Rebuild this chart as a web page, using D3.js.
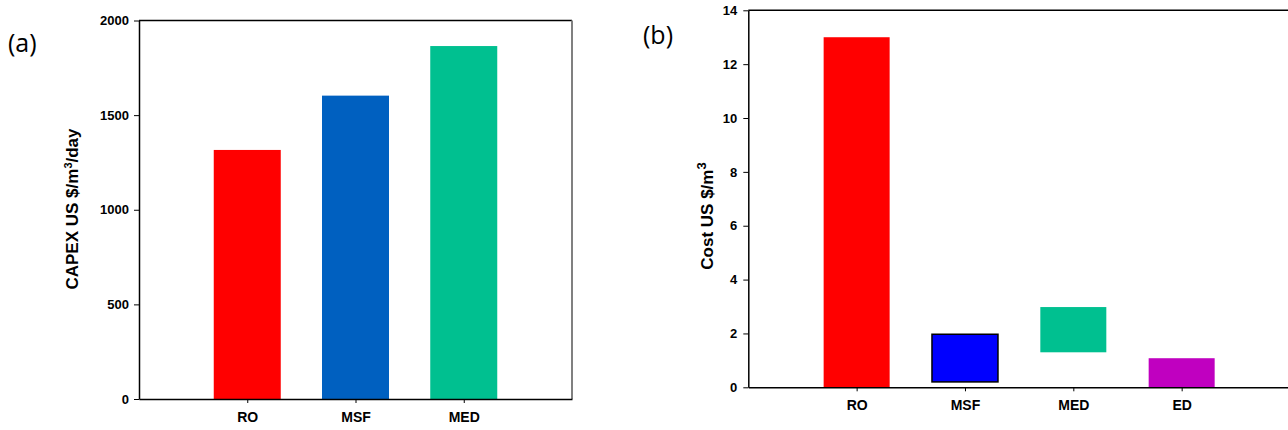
<!DOCTYPE html>
<html>
<head>
<meta charset="utf-8">
<script src="https://cdn.jsdelivr.net/npm/d3@7"></script>
<style>
  body { margin: 0; background: #fff; }
  svg { display: block; }
</style>
</head>
<body>
<div id="chart"></div>
<script>
// data
const capexCats = ["RO", "MSF", "MED"];
const capexValues = [1316, 1603, 1865];
const capexColors = ["#ff0000", "#0060c0", "#00c090"];
const capexTicks = [0, 500, 1000, 1500, 2000];

const costCats = ["RO", "MSF", "MED", "ED"];
const costLow = [0, 0.2, 1.3, 0];
const costHigh = [13, 1.97, 2.98, 1.08];
const costColors = ["#ff0000", "#0000ff", "#00c090", "#c000c0"];
const costTicks = [0, 2, 4, 6, 8, 10, 12, 14];

const W = 1288, H = 430;
const font = "'Liberation Sans', Arial, sans-serif";

const svg = d3.select("#chart").append("svg")
    .attr("width", W)
    .attr("height", H);

// ---- panel (a) ----
const a = { left: 139, right: 572, top: 20.5, bottom: 399 };

const xA = d3.scaleLinear().domain([0, capexCats.length + 1]).range([a.left, a.right]);
const yA = d3.scaleLinear().domain([0, 2000]).range([a.bottom, a.top]);
const bwA = 67;

svg.append("g").selectAll("rect")
    .data(capexValues)
    .join("rect")
    .attr("x", (d, i) => xA(i + 1) - bwA / 2)
    .attr("width", bwA)
    .attr("y", d => yA(d))
    .attr("height", d => yA(0) - yA(d))
    .attr("fill", (d, i) => capexColors[i]);

// frame lines
svg.append("line").attr("x1", a.left).attr("x2", a.right).attr("y1", a.top).attr("y2", a.top)
    .attr("stroke", "#000").attr("stroke-width", 1.5);
svg.append("line").attr("x1", a.right).attr("x2", a.right).attr("y1", a.top).attr("y2", a.bottom)
    .attr("stroke", "#808080").attr("stroke-width", 2);

const axA = svg.append("g")
    .attr("transform", `translate(${a.left},0)`)
    .call(d3.axisLeft(yA).tickValues(capexTicks).tickFormat(d3.format("d"))
        .tickSize(5).tickPadding(5).tickSizeOuter(0));
const bxA = svg.append("g")
    .attr("transform", `translate(0,${a.bottom})`)
    .call(d3.axisBottom(xA).tickValues(d3.range(1, capexCats.length + 1))
        .tickFormat(d => capexCats[d - 1]).tickSize(4).tickPadding(9).tickSizeOuter(0));

svg.append("text")
    .attr("transform", "translate(78,209) rotate(-90)")
    .attr("text-anchor", "middle")
    .style("font-family", font).style("font-weight", "bold").style("font-size", "17px")
    .html('CAPEX US $/m<tspan dy="-6" font-size="11px">3</tspan><tspan dy="6">/day</tspan>');

svg.append("text")
    .attr("x", 8).attr("y", 52)
    .style("font-family", "'Open Sans', sans-serif").style("font-size", "25px")
    .text("(a)");

// ---- panel (b) ----
const b = { left: 748.3, right: 1290, top: 10.3, bottom: 387.3 };

const xB = d3.scaleLinear().domain([0, costCats.length + 1]).range([b.left, b.right]);
const yB = d3.scaleLinear().domain([0, 14]).range([b.bottom, b.top]);
const bwB = 66;

svg.append("g").selectAll("rect")
    .data(costHigh)
    .join("rect")
    .attr("x", (d, i) => xB(i + 1) - bwB / 2)
    .attr("width", bwB)
    .attr("y", d => yB(d))
    .attr("height", (d, i) => yB(costLow[i]) - yB(d))
    .attr("fill", (d, i) => costColors[i])
    .attr("stroke", (d, i) => i === 1 ? "#000" : "none")
    .attr("stroke-width", 1.5);

svg.append("line").attr("x1", b.left).attr("x2", b.right).attr("y1", b.top).attr("y2", b.top)
    .attr("stroke", "#000").attr("stroke-width", 1.5);

const axB = svg.append("g")
    .attr("transform", `translate(${b.left},0)`)
    .call(d3.axisLeft(yB).tickValues(costTicks).tickSize(5).tickPadding(6).tickSizeOuter(0));
const bxB = svg.append("g")
    .attr("transform", `translate(0,${b.bottom})`)
    .call(d3.axisBottom(xB).tickValues(d3.range(1, costCats.length + 1))
        .tickFormat(d => costCats[d - 1]).tickSize(4).tickPadding(9).tickSizeOuter(0));

svg.append("text")
    .attr("transform", "translate(713,216) rotate(-90)")
    .attr("text-anchor", "middle")
    .style("font-family", font).style("font-weight", "bold").style("font-size", "17px")
    .html('Cost US $/m<tspan dy="-7" font-size="13px">3</tspan>');

svg.append("text")
    .attr("x", 643).attr("y", 44)
    .style("font-family", "'Open Sans', sans-serif").style("font-size", "25px")
    .text("(b)");

// axis styling
[axA, bxA, axB, bxB].forEach(g => {
    g.select(".domain").attr("stroke", "#000").attr("stroke-width", 1.5);
    g.selectAll(".tick line").attr("stroke", "#000").attr("stroke-width", 1);
    g.selectAll("text").style("font-family", font).style("font-weight", "bold")
        .style("font-size", "13px").attr("fill", "#000");
});
[bxA, bxB].forEach(g => g.selectAll("text").style("font-size", "14px"));
</script>
</body>
</html>
